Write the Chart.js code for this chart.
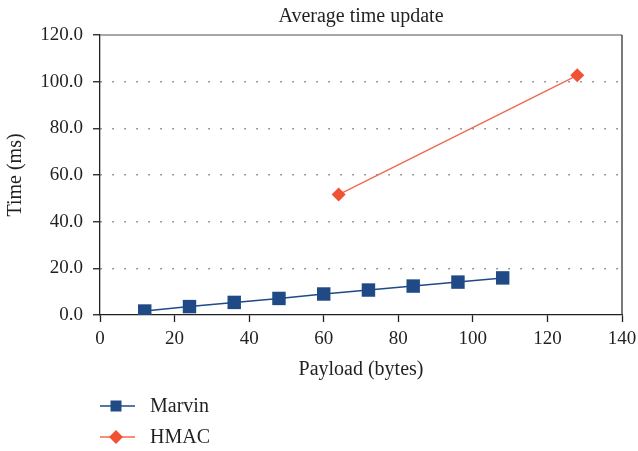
<!DOCTYPE html>
<html>
<head>
<meta charset="utf-8">
<script src="https://cdn.jsdelivr.net/npm/chart.js@4/dist/chart.umd.min.js"></script>
<style>
  html, body { margin: 0; padding: 0; background: #fff; }
  #wrap { width: 638px; height: 451px; position: relative; }
</style>
</head>
<body>
<div id="wrap"><canvas id="chart" width="638" height="451"></canvas></div>
<script>
// Average update time per payload size
const chartTitle = 'Average time update';
const xTitle = 'Payload (bytes)';
const yTitle = 'Time (ms)';

const marvinPayload = [12, 24, 36, 48, 60, 72, 84, 96, 108];
const marvinTime = [1.7, 3.6, 5.4, 7.1, 9.0, 10.7, 12.4, 14.1, 15.9];

const hmacPayload = [64, 128];
const hmacTime = [51.6, 102.7];

const seriesNames = ['Marvin', 'HMAC'];
const xTicks = [0, 20, 40, 60, 80, 100, 120, 140];
const yTicks = [0, 20, 40, 60, 80, 100, 120];

const FONT = "'Liberation Serif', 'Times New Roman', serif";
const TEXT = '#231f20';
const BLUE = '#1f4a86';
const ORANGE = '#f05233';
const ORANGE_LINE = '#f26a50';

const toPoints = (xs, ys) => xs.map((x, i) => ({ x, y: ys[i] }));

// Title over the plot, plot frame (top/right) and the legend under the axis
const decorations = {
  id: 'decorations',
  afterDraw(chart) {
    const { ctx, chartArea: a } = chart;
    ctx.save();
    // frame
    ctx.lineWidth = 1.3;
    ctx.strokeStyle = '#8a8a8a';
    ctx.beginPath();
    ctx.moveTo(a.left, a.top);
    ctx.lineTo(a.right, a.top);
    ctx.stroke();
    ctx.strokeStyle = '#333';
    ctx.beginPath();
    ctx.moveTo(a.right, a.top);
    ctx.lineTo(a.right, a.bottom);
    ctx.stroke();

    // title
    ctx.fillStyle = TEXT;
    ctx.font = '20px ' + FONT;
    ctx.textAlign = 'center';
    ctx.textBaseline = 'alphabetic';
    ctx.fillText(chartTitle, (a.left + a.right) / 2, 22);

    // legend
    const rows = [
      { name: seriesNames[0], line: BLUE, fill: BLUE, shape: 'square', y: 406 },
      { name: seriesNames[1], line: ORANGE_LINE, fill: ORANGE, shape: 'diamond', y: 437 }
    ];
    rows.forEach(r => {
      ctx.strokeStyle = r.line;
      ctx.lineWidth = 1.5;
      ctx.beginPath();
      ctx.moveTo(100, r.y);
      ctx.lineTo(135, r.y);
      ctx.stroke();
      ctx.fillStyle = r.fill;
      ctx.beginPath();
      if (r.shape === 'square') {
        ctx.rect(116 - 5.5, r.y - 5.5, 11, 11);
      } else {
        ctx.moveTo(116, r.y - 7);
        ctx.lineTo(123, r.y);
        ctx.lineTo(116, r.y + 7);
        ctx.lineTo(109, r.y);
        ctx.closePath();
      }
      ctx.fill();
      ctx.fillStyle = TEXT;
      ctx.font = '20px ' + FONT;
      ctx.textAlign = 'left';
      ctx.textBaseline = 'middle';
      ctx.fillText(r.name, 150, r.y + 1);
    });
    ctx.restore();
  }
};

new Chart(document.getElementById('chart'), {
  type: 'line',
  data: {
    datasets: [
      {
        label: seriesNames[0],
        data: toPoints(marvinPayload, marvinTime),
        borderColor: BLUE,
        backgroundColor: BLUE,
        borderWidth: 1.5,
        pointStyle: 'rect',
        pointRadius: 9.5,
        pointBorderWidth: 0,
        pointBackgroundColor: BLUE,
        tension: 0
      },
      {
        label: seriesNames[1],
        data: toPoints(hmacPayload, hmacTime),
        borderColor: ORANGE_LINE,
        backgroundColor: ORANGE,
        borderWidth: 1.5,
        pointStyle: 'rectRot',
        pointRadius: 7,
        pointBorderWidth: 0,
        pointBackgroundColor: ORANGE,
        tension: 0
      }
    ]
  },
  options: {
    responsive: false,
    animation: false,
    devicePixelRatio: 1,
    layout: { padding: { top: 35, right: 16, bottom: 66, left: 0 } },
    plugins: {
      legend: { display: false },
      title: { display: false },
      tooltip: { enabled: false }
    },
    scales: {
      x: {
        type: 'linear',
        min: 0,
        max: 140,
        afterBuildTicks: s => { s.ticks = xTicks.map(v => ({ value: v })); },
        afterFit: s => { s.height = 70; s.paddingLeft = 0; s.paddingRight = 0; },
        ticks: {
          color: TEXT,
          font: { family: FONT, size: 19 },
          padding: 6,
          maxRotation: 0
        },
        grid: {
          drawOnChartArea: false,
          drawTicks: true,
          tickLength: 7,
          tickColor: '#231f20',
          tickWidth: 1.3
        },
        border: { color: '#231f20', width: 1.3 },
        title: {
          display: true,
          text: xTitle,
          color: TEXT,
          font: { family: FONT, size: 20 },
          padding: { top: 0, bottom: 3 }
        }
      },
      y: {
        min: 0,
        max: 120,
        afterBuildTicks: s => { s.ticks = yTicks.map(v => ({ value: v })); },
        afterFit: s => { s.width = 100; s.paddingTop = 0; s.paddingBottom = 0; },
        ticks: {
          color: TEXT,
          font: { family: FONT, size: 19 },
          padding: 10,
          callback: v => Number(v).toFixed(1)
        },
        grid: {
          drawTicks: true,
          tickLength: 7,
          tickColor: '#231f20',
          tickWidth: 1.3,
          tickBorderDash: [],
          lineWidth: 1.5,
          color: c => (c.tick && (c.tick.value === 0 || c.tick.value === 120)) ? 'rgba(0,0,0,0)' : '#7a7a7a'
        },
        border: { color: '#231f20', width: 1.3, dash: [1.5, 10.5] },
        title: {
          display: true,
          text: yTitle,
          color: TEXT,
          font: { family: FONT, size: 20 },
          padding: { top: 4, bottom: 0 }
        }
      }
    }
  },
  plugins: [decorations]
});
</script>
</body>
</html>
